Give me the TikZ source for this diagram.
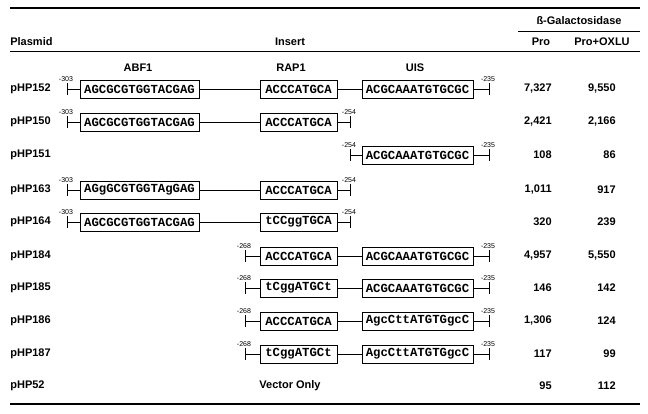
\documentclass[tikz,border=0pt]{standalone}
\usepackage{fontspec}
\setmainfont{Liberation Sans}
\newfontfamily\seqfont{Liberation Mono}
\newcommand{\sitemark}[2]{%
  \draw (#1) ++(0,-6) -- ++(0,12);
  \path (#1) ++(-1,-6) node[sitelbl,above] {#2};}

\begin{document}
\begin{tikzpicture}[x=1pt,y=-1pt,line width=0.7pt,
    hd/.style={font=\fontsize{11}{13}\selectfont\bfseries,inner sep=0},
    num/.style={hd,anchor=east},
    sitelbl/.style={font=\fontsize{7}{8}\selectfont,inner sep=1pt},
    seq/.style={draw,font=\fontsize{12.3}{14}\selectfont\seqfont\bfseries,minimum height=18,inner sep=0},
    abf/.style={seq,minimum width=119},
    rap/.style={seq,minimum width=77},
    uis/.style={seq,minimum width=111}]
  \useasboundingbox (0,0) rectangle (648,413);
  % rules
  \draw[line width=1.2pt] (10,8) -- (640,8);
  \draw (518,31) -- (640,31);
  \draw[line width=0.9pt] (10,51) -- (640,51);
  \draw[line width=1.2pt] (10,404) -- (640,404);
  % headers
  \node[hd] at (579,21) {ß-Galactosidase};
  \node[hd,anchor=west] at (10,42) {Plasmid};
  \node[hd] at (290,42) {Insert};
  \node[hd] at (541,42) {Pro};
  \node[hd] at (602,42) {Pro+OXLU};
  \node[hd] at (138,68) {ABF1};
  \node[hd] at (291,68) {RAP1};
  \node[hd] at (415,68) {UIS};
  % plasmids and activities
  \foreach \n/\y/\a/\b in {152/89/{7,327}/{9,550}, 150/122/{2,421}/{2,166},
      151/155/108/86, 163/190/{1,011}/917, 164/222/320/239,
      184/256/{4,957}/{5,550}, 185/288/146/142, 186/321/{1,306}/124,
      187/354/117/99, 52/386/95/112} {
    \node[hd,anchor=west] (p\n) at (10,\y) {pHP\n};
    \node[num] (pro\n) at (552,\y) {\a};
    \node[num] (ox\n) at (616,\y) {\b};
  }
  % pHP152
  \coordinate (s152) at (67,89);
  \node[abf] (a152) at (139.5,89) {AGCGCGTGGTACGAG};
  \node[rap] (r152) at (298.5,89) {ACCCATGCA};
  \node[uis] (u152) at (417.5,89) {ACGCAAATGTGCGC};
  \coordinate (e152) at (489,89);
  \draw (s152) -- (a152) -- (r152) -- (u152) -- (e152);
  \sitemark{s152}{-303} \sitemark{e152}{-235}
  % pHP150
  \coordinate (s150) at (67,122);
  \node[abf] (a150) at (139.5,122) {AGCGCGTGGTACGAG};
  \node[rap] (r150) at (298.5,122) {ACCCATGCA};
  \coordinate (e150) at (350,122);
  \draw (s150) -- (a150) -- (r150) -- (e150);
  \sitemark{s150}{-303} \sitemark{e150}{-254}
  % pHP151
  \coordinate (s151) at (350,155);
  \node[uis] (u151) at (417.5,155) {ACGCAAATGTGCGC};
  \coordinate (e151) at (489,155);
  \draw (s151) -- (u151) -- (e151);
  \sitemark{s151}{-254} \sitemark{e151}{-235}
  % pHP163
  \coordinate (s163) at (67,190);
  \node[abf] (a163) at (139.5,190) {AGgGCGTGGTAgGAG};
  \node[rap] (r163) at (298.5,190) {ACCCATGCA};
  \coordinate (e163) at (350,190);
  \draw (s163) -- (a163) -- (r163) -- (e163);
  \sitemark{s163}{-303} \sitemark{e163}{-254}
  % pHP164
  \coordinate (s164) at (67,222);
  \node[abf] (a164) at (139.5,222) {AGCGCGTGGTACGAG};
  \node[rap] (r164) at (298.5,222) {tCCggTGCA};
  \coordinate (e164) at (350,222);
  \draw (s164) -- (a164) -- (r164) -- (e164);
  \sitemark{s164}{-303} \sitemark{e164}{-254}
  % pHP184
  \coordinate (s184) at (245,256);
  \node[rap] (r184) at (298.5,256) {ACCCATGCA};
  \node[uis] (u184) at (417.5,256) {ACGCAAATGTGCGC};
  \coordinate (e184) at (489,256);
  \draw (s184) -- (r184) -- (u184) -- (e184);
  \sitemark{s184}{-268} \sitemark{e184}{-235}
  % pHP185
  \coordinate (s185) at (245,288);
  \node[rap] (r185) at (298.5,288) {tCggATGCt};
  \node[uis] (u185) at (417.5,288) {ACGCAAATGTGCGC};
  \coordinate (e185) at (489,288);
  \draw (s185) -- (r185) -- (u185) -- (e185);
  \sitemark{s185}{-268} \sitemark{e185}{-235}
  % pHP186
  \coordinate (s186) at (245,321);
  \node[rap] (r186) at (298.5,321) {ACCCATGCA};
  \node[uis] (u186) at (417.5,321) {AgcCttATGTGgcC};
  \coordinate (e186) at (489,321);
  \draw (s186) -- (r186) -- (u186) -- (e186);
  \sitemark{s186}{-268} \sitemark{e186}{-235}
  % pHP187
  \coordinate (s187) at (245,354);
  \node[rap] (r187) at (298.5,354) {tCggATGCt};
  \node[uis] (u187) at (417.5,354) {AgcCttATGTGgcC};
  \coordinate (e187) at (489,354);
  \draw (s187) -- (r187) -- (u187) -- (e187);
  \sitemark{s187}{-268} \sitemark{e187}{-235}
  % pHP52
  \node[hd] (v52) at (290,386) {Vector Only};
\end{tikzpicture}
\end{document}
